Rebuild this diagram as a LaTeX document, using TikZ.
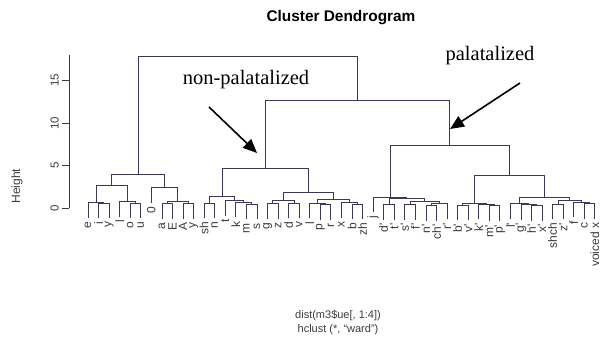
\documentclass[tikz,border=0pt]{standalone}
\usepackage{fontspec}
\setmainfont{Liberation Sans}
\newfontfamily\annotfont{Liberation Serif}
\usetikzlibrary{calc,arrows.meta}
\definecolor{treecol}{RGB}{58,58,88}
\definecolor{txtcol}{RGB}{60,60,64}
\newcommand\prm{\textquotesingle}
% leaf: name, position index, height of the merge it hangs from, label
\newcommand\dleaf[4]{%
  \coordinate (#1) at ({88+(#2-1)*10.56},{154+8.5*(#3-1.8)});
  \node[leaflbl] (#1t) at ([yshift=-3.5pt]#1) {#4};
}
% merge: name, first child, second child, merge height
\newcommand\dmerge[4]{%
  \path let \p1=(#2), \p2=(#3) in coordinate (#1) at ({0.5*(\x1+\x2)},{(154+8.5*(#4))*1pt});
  \draw[tree] (#2) |- (#1) -| (#3);
}
\begin{document}
\begin{tikzpicture}[x=1pt,y=1pt,
  tree/.style={draw=treecol,line width=0.8pt},
  leaflbl/.style={rotate=90,anchor=east,inner sep=0pt,text=txtcol,font=\fontsize{12}{12}\selectfont},
  ticklbl/.style={rotate=90,anchor=south,inner sep=0pt,text=txtcol,font=\fontsize{11.5}{12}\selectfont},
  plain/.style={inner sep=0pt,text=txtcol,font=\fontsize{11}{12}\selectfont},
  annot/.style={inner sep=0pt,text=black,font=\annotfont\fontsize{20.5}{22}\selectfont},
  pointer/.style={draw=black,line width=1.6pt,-{Triangle[length=14pt,width=12pt]}}]
\useasboundingbox (0,0) rectangle (601,362);
\fill[white] (0,0) rectangle (601,362);

% title and captions
\node[inner sep=0pt,text=black,font=\bfseries\fontsize{15.4}{17}\selectfont] (title) at (341,344) {Cluster Dendrogram};
\node[plain] (cap1) at (338,46) {dist(m3\$ue[, 1:4])};
\node[plain] (cap2) at (338,32) {hclust (*, ``ward'')};

% height axis
\coordinate (ax0) at (69,154);
\coordinate (ax1) at (69,{154+8.5*18});
\draw[draw=txtcol,line width=0.7pt] (ax0) -- (ax1);
\foreach \v in {0,5,10,15}{
  \coordinate (tk\v) at (69,{154+8.5*\v});
  \draw[draw=txtcol,line width=0.7pt] (tk\v) -- ++(-7,0);
  \node[ticklbl] (tl\v) at (59,{154+8.5*\v}) {\v};
}
\node[plain,rotate=90,font=\fontsize{12}{12}\selectfont] (ylab) at (17,176) {Height};

% vowels
\dleaf{lf1}{1}{0.65}{e}
\dleaf{lf2}{2}{0.6}{i}
\dleaf{lf3}{3}{0.6}{y}
\dmerge{iy}{lf2}{lf3}{0.6}
\dmerge{eiy}{lf1}{iy}{0.65}
\dleaf{lf4}{4}{0.8}{l}
\dleaf{lf5}{5}{0.6}{o}
\dleaf{lf6}{6}{0.6}{u}
\dmerge{ou}{lf5}{lf6}{0.6}
\dmerge{lou}{lf4}{ou}{0.8}
\dmerge{LL}{eiy}{lou}{2.7}
\dleaf{lf7}{7}{2.4}{0}
\dleaf{lf8}{8}{0.5}{a}
\dleaf{lf9}{9}{0.5}{E}
\dmerge{aE}{lf8}{lf9}{0.5}
\dleaf{lf10}{10}{0.55}{A}
\dleaf{lf11}{11}{0.55}{y}
\dmerge{Ay}{lf10}{lf11}{0.55}
\dmerge{aEAy}{aE}{Ay}{0.75}
\dmerge{LR}{lf7}{aEAy}{2.4}
\dmerge{L}{LL}{LR}{3.9}

% hard consonants
\dleaf{lf12}{12}{0.6}{sh}
\dleaf{lf13}{13}{0.6}{n}
\dmerge{shn}{lf12}{lf13}{0.6}
\dleaf{lf14}{14}{0.9}{t}
\dleaf{lf15}{15}{0.7}{k}
\dleaf{lf16}{16}{0.45}{m}
\dleaf{lf17}{17}{0.45}{s}
\dmerge{ms}{lf16}{lf17}{0.45}
\dmerge{kms}{lf15}{ms}{0.7}
\dmerge{tkms}{lf14}{kms}{0.9}
\dmerge{ML}{shn}{tkms}{1.4}
\dleaf{lf18}{18}{0.5}{g}
\dleaf{lf19}{19}{0.5}{z}
\dmerge{gz}{lf18}{lf19}{0.5}
\dleaf{lf20}{20}{0.6}{d}
\dleaf{lf21}{21}{0.6}{v}
\dmerge{dv}{lf20}{lf21}{0.6}
\dmerge{gzdv}{gz}{dv}{0.9}
\dleaf{lf22}{22}{0.6}{l}
\dleaf{lf23}{23}{0.4}{p}
\dleaf{lf24}{24}{0.4}{r}
\dmerge{pr}{lf23}{lf24}{0.4}
\dmerge{lpr}{lf22}{pr}{0.6}
\dleaf{lf25}{25}{0.65}{x}
\dleaf{lf26}{26}{0.45}{b}
\dleaf{lf27}{27}{0.45}{zh}
\dmerge{bzh}{lf26}{lf27}{0.45}
\dmerge{xbzh}{lf25}{bzh}{0.65}
\dmerge{lprx}{lpr}{xbzh}{1.0}
\dmerge{MR}{gzdv}{lprx}{1.8}
\dmerge{M}{ML}{MR}{4.7}

% soft consonants
\dleaf{lf28}{28}{1.3}{j}
\dleaf{lf29}{29}{0.4}{d\prm}
\dleaf{lf30}{30}{0.4}{t\prm}
\dmerge{dt}{lf29}{lf30}{0.4}
\dleaf{lf31}{31}{0.4}{s\prm}
\dleaf{lf32}{32}{0.4}{f\prm}
\dmerge{sf}{lf31}{lf32}{0.4}
\dleaf{lf33}{33}{0.3}{n\prm}
\dleaf{lf34}{34}{0.3}{ch\prm}
\dmerge{nch}{lf33}{lf34}{0.3}
\dleaf{lf35}{35}{0.5}{r\prm}
\dmerge{nchr}{nch}{lf35}{0.5}
\dmerge{sfnchr}{sf}{nchr}{0.75}
\dmerge{PAb}{dt}{sfnchr}{1.1}
\dmerge{PA}{lf28}{PAb}{1.3}
\dleaf{lf36}{36}{0.35}{b\prm}
\dleaf{lf37}{37}{0.35}{v\prm}
\dmerge{bv}{lf36}{lf37}{0.35}
\dleaf{lf38}{38}{0.45}{k\prm}
\dleaf{lf39}{39}{0.25}{m\prm}
\dleaf{lf40}{40}{0.25}{p\prm}
\dmerge{mp}{lf39}{lf40}{0.25}
\dmerge{kmp}{lf38}{mp}{0.45}
\dmerge{PBl}{bv}{kmp}{0.6}
\dleaf{lf41}{41}{0.5}{l\prm}
\dleaf{lf42}{42}{0.4}{g\prm}
\dleaf{lf43}{43}{0.3}{h\prm}
\dleaf{lf44}{44}{0.3}{x\prm}
\dmerge{hx}{lf43}{lf44}{0.3}
\dmerge{ghx}{lf42}{hx}{0.4}
\dmerge{lghx}{lf41}{ghx}{0.5}
\dleaf{lf45}{45}{0.45}{shch}
\dleaf{lf46}{46}{0.45}{z\prm}
\dmerge{shz}{lf45}{lf46}{0.45}
\dleaf{lf47}{47}{0.7}{f}
\dleaf{lf48}{48}{0.5}{c}
\dleaf{lf49}{49}{0.5}{voiced x}
\dmerge{cvx}{lf48}{lf49}{0.5}
\dmerge{fcvx}{lf47}{cvx}{0.7}
\dmerge{shf}{shz}{fcvx}{0.9}
\dmerge{PBr}{lghx}{shf}{1.25}
\dmerge{PB}{PBl}{PBr}{3.8}
\dmerge{P}{PA}{PB}{7.4}

% upper joins
\dmerge{R}{M}{P}{12.7}
\dmerge{root}{L}{R}{17.8}

% annotations
\node[annot] (np) at (246,282) {non-palatalized};
\node[annot] (pal) at (490,306) {palatalized};
\coordinate (npfrom) at (209,255);
\coordinate (npto) at (257,209);
\coordinate (palfrom) at (520,279);
\coordinate (palto) at (450,233);
\draw[pointer] (npfrom) -- (npto);
\draw[pointer] (palfrom) -- (palto);
\end{tikzpicture}
\end{document}
